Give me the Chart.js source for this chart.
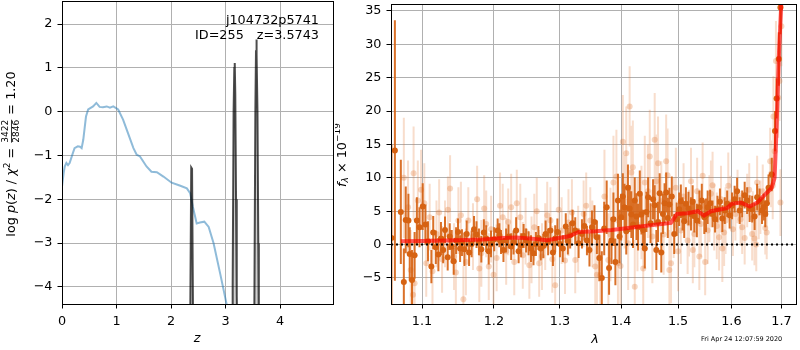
<!DOCTYPE html>
<html>
<head>
<meta charset="utf-8">
<script src="https://cdn.jsdelivr.net/npm/chart.js@4.4.1/dist/chart.umd.min.js"></script>
<style>
  body { margin: 0; background: #fff; }
  #wrap { position: relative; width: 800px; height: 350px; }
  canvas { position: absolute; top: 0; }
  #pz { left: 0; }
  #spec { left: 335px; }
</style>
</head>
<body>
<div id="wrap">
  <canvas id="pz" width="335" height="350"></canvas>
  <canvas id="spec" width="465" height="350"></canvas>
</div>
<script>
// ---- left panel: log p(z)
const zTicks = [0, 1, 2, 3, 4];
const lnpTicks = [-4, -3, -2, -1, 0, 1, 2];
const blueZ = [0, 0.03, 0.05, 0.08, 0.11, 0.14, 0.19, 0.23, 0.29, 0.33, 0.36, 0.39, 0.44, 0.48, 0.57, 0.63, 0.69, 0.75, 0.82, 0.88, 0.94, 1.03, 1.12, 1.21, 1.31, 1.37, 1.43, 1.55, 1.64, 1.74, 1.86, 2.01, 2.17, 2.29, 2.35, 2.40, 2.47, 2.53, 2.61, 2.69, 2.78, 2.90, 3.02, 3.06];
const blueLnp = [-1.71, -1.4, -1.25, -1.17, -1.22, -1.17, -0.98, -0.83, -0.79, -0.8, -0.83, -0.64, -0.11, 0.05, 0.12, 0.2, 0.11, 0.1, 0.12, 0.09, 0.12, 0.05, -0.18, -0.49, -0.83, -0.98, -1.02, -1.25, -1.37, -1.38, -1.48, -1.62, -1.69, -1.75, -1.86, -2.17, -2.55, -2.53, -2.51, -2.63, -3.0, -3.69, -4.4, -4.8];
const spikeZ = [2.345, 2.370, 2.385, 2.410, 3.125, 3.130, 3.147, 3.160, 3.168, 3.178, 3.192, 3.205, 3.215, 3.520, 3.528, 3.546, 3.558, 3.565, 3.572, 3.585, 3.600, 3.610];
const spikeLnp = [-6, -1.27, -1.30, -6, -5, -4, 0, 1.0, 1.11, 0.4, -2.0, -4.2, -5, -5, -4.4, 0, 1.4, 1.65, 1.3, 0, -3, -5];

// ---- right panel: spectrum
const lamTicks = [1.1, 1.2, 1.3, 1.4, 1.5, 1.6, 1.7];
const fluxTicks = [-5, 0, 5, 10, 15, 20, 25, 30, 35];
const darkWave = [1.0600, 1.0644, 1.0721, 1.0760, 1.0785, 1.0820, 1.0837, 1.0867, 1.0901, 1.0931,
  1.0966, 1.1009, 1.1046, 1.1125, 1.1185, 1.1255, 1.1310, 1.1347, 1.1403, 1.1463,
  1.1519, 1.1579, 1.1611, 1.1681, 1.1750, 1.1819, 1.1889, 1.1958, 1.2055, 1.2104,
  1.2179, 1.2254, 1.2328, 1.2403, 1.2478, 1.2552, 1.2627, 1.2701, 1.2776, 1.2851,
  1.2925, 1.3000, 1.3092, 1.3162, 1.3243, 1.3351, 1.3432, 1.3514, 1.3595, 1.3676,
  1.3757, 1.3838, 1.3903, 1.3946, 1.4000, 1.4058, 1.4116, 1.4174, 1.4233, 1.4291,
  1.4349, 1.4407, 1.4465, 1.4552, 1.4610, 1.4669, 1.4727, 1.4785, 1.4843, 1.4930,
  1.5019, 1.5081, 1.5143, 1.5236, 1.5298, 1.5391, 1.5484, 1.5547, 1.5640, 1.5733,
  1.5826, 1.5919, 1.6013, 1.6112, 1.6211, 1.6309, 1.6408, 1.6507, 1.6605, 1.6671,
  1.6737, 1.6803, 1.6868, 1.6901, 1.6947, 1.6980,
  1.1080, 1.1150, 1.1220, 1.1285, 1.1375, 1.1430, 1.1490, 1.1545, 1.1645, 1.1715,
  1.1785, 1.1855, 1.1925, 1.2005, 1.2080, 1.2140, 1.2215, 1.2290, 1.2365, 1.2440,
  1.2515, 1.2590, 1.2665, 1.2740, 1.2815, 1.2890, 1.2960, 1.3045, 1.3125, 1.3200,
  1.3297, 1.3390, 1.3473, 1.3555, 1.3635, 1.3716, 1.3797, 1.3870, 1.3973, 1.4029,
  1.4087, 1.4145, 1.4203, 1.4262, 1.4320, 1.4378, 1.4436, 1.4508, 1.4581, 1.4640,
  1.4698, 1.4756, 1.4814, 1.4886, 1.4975, 1.5050, 1.5112, 1.5190, 1.5267, 1.5345,
  1.5437, 1.5516, 1.5593, 1.5687, 1.5780, 1.5873, 1.5966, 1.6063, 1.6162, 1.6260,
  1.6358, 1.6457, 1.6556, 1.6638, 1.6704];
const darkFlux = [1.0, 14.1, 4.9, -5.6, 3.7, 3.6, -1.4, -5.3, -1.6, 3.6,
  2.6, 5.7, 3.0, -3.3, -0.4, 0.9, 2.2, -1.9, -0.3, 0.6,
  -0.6, -0.7, 1.6, 0.1, 1.5, -0.7, 0.9, 0.1, 2.1, 0.4,
  0.6, -0.3, 2.1, -0.1, 0.6, -0.6, 0.1, -0.6, 1.6, 2.1,
  0.9, 0.1, 2.7, 1.4, 2.1, 1.6, 0.6, 2.6, 1.1, -5.0,
  5.6, 0.6, -2.6, 6.6, 4.1, 5.6, 8.5, 4.5, 6.6, 2.6,
  4.5, -0.6, 7.1, 6.8, -0.8, 7.7, 4.6, 7.8, 6.0, 1.6,
  5.3, 4.6, 6.1, 4.6, 4.3, 5.6, 4.1, 5.6, 4.6, 5.3,
  3.9, 6.1, 5.8, 8.0, 6.1, 6.6, 5.3, 7.1, 5.1, 4.6,
  8.5, 10.5, 17.0, 21.9, 27.8, 35.5,
  0.5, 1.8, -1.5, -0.8, 1.2, -2.5, 1.9, 0.3, -1.2, 2.3,
  0.4, 1.8, -1.0, 0.8, 1.4, -0.8, 1.2, 0.3, -1.0, 1.3,
  0.2, -1.3, 1.0, -0.2, 0.4, -1.2, 1.9, -0.6, 0.5, 3.2,
  0.2, 2.8, -0.8, 3.4, -2.0, 2.4, -3.5, 3.8, 1.2, 7.2,
  2.0, 5.4, 3.0, 4.2, 7.6, 2.2, 4.9, 3.2, 5.9, 3.4,
  -1.2, 6.2, 4.0, 7.2, 3.8, 6.5, 3.5, 5.4, 6.4, 3.6,
  6.6, 4.4, 6.2, 3.8, 6.4, 5.1, 4.4, 6.8, 5.1, 7.4,
  5.4, 4.2, 6.4, 5.6, 6.2];
const darkErr = [14, 19.5, 7.8, 5, 5, 4, 4, 4.5, 3.5, 3.5,
  3, 3.5, 3, 2.5, 2.5, 2.5, 2, 2, 2.5, 2,
  2, 2.5, 2, 2, 2, 2, 2, 2, 1.8, 1.8,
  1.8, 2, 2, 1.8, 1.8, 2, 1.8, 1.8, 2, 2,
  2, 2, 2, 2, 2, 2.2, 2.2, 2.5, 2.5, 4,
  4, 3.5, 3.5, 4, 3.5, 3.5, 3.5, 3.5, 3.5, 3.5,
  3, 3, 3, 3, 3, 3, 3, 3, 2.5, 3,
  2.5, 2.5, 2.5, 2.5, 2.5, 2.5, 2.5, 2.5, 2, 2,
  2, 2, 2, 2, 2, 2, 2, 2, 2, 2,
  2, 2.5, 3, 3, 4, 4,
  3, 2.5, 2.5, 2, 2, 2, 2, 2, 2, 2,
  2, 2, 2, 1.8, 1.8, 1.8, 1.8, 1.8, 1.8, 1.8,
  1.8, 1.8, 1.8, 1.8, 2, 2, 2, 2, 2, 2,
  2.2, 2.2, 2.5, 2.5, 3.5, 4, 4, 4, 4, 3.5,
  3.5, 3.5, 3.5, 3.5, 3.5, 3, 3, 3, 3, 3,
  3, 3, 3, 3, 2.5, 2.5, 2.5, 2.5, 2.5, 2.5,
  2.5, 2.5, 2, 2, 2, 2, 2, 2, 2, 2,
  2, 2, 2, 2, 2];
const lightWave = [1.0760, 1.0815, 1.0850, 1.0880, 1.0888, 1.0901, 1.0944, 1.0987, 1.1056, 1.1102,
  1.1194, 1.1310, 1.1380, 1.1435, 1.1495, 1.1565, 1.1634, 1.1759, 1.1819, 1.1889,
  1.1926, 1.1995, 1.2129, 1.2254, 1.2338, 1.2428, 1.2527, 1.2602, 1.2677, 1.2801,
  1.2851, 1.2925, 1.3027, 1.3135, 1.3243, 1.3378, 1.3486, 1.3568, 1.3595, 1.3784,
  1.3870, 1.3946, 1.4029, 1.4087, 1.4145, 1.4174, 1.4233, 1.4349, 1.4407, 1.4494,
  1.4581, 1.4640, 1.4698, 1.4785, 1.4843, 1.4872, 1.4959, 1.5050, 1.5174, 1.5236,
  1.5298, 1.5391, 1.5453, 1.5547, 1.5609, 1.5671, 1.5764, 1.5826, 1.5888, 1.5981,
  1.6079, 1.6211, 1.6309, 1.6408, 1.6454, 1.6507, 1.6572, 1.6671, 1.6770, 1.6822,
  1.6836, 1.6888, 1.6934, 1.6980, 1.7000,
  1.1030, 1.1140, 1.1230, 1.1270, 1.1350, 1.1460, 1.1530, 1.1600, 1.1700, 1.1790,
  1.1860, 1.1960, 1.2040, 1.2090, 1.2180, 1.2210, 1.2300, 1.2390, 1.2470, 1.2560,
  1.2640, 1.2720, 1.2770, 1.2880, 1.2980, 1.3080, 1.3190, 1.3290, 1.3420, 1.3520,
  1.3650, 1.3720, 1.3820, 1.3920, 1.3990, 1.4060, 1.4120, 1.4200, 1.4280, 1.4380,
  1.4460, 1.4540, 1.4610, 1.4740, 1.4810, 1.4920, 1.5000, 1.5100, 1.5200, 1.5270,
  1.5350, 1.5420, 1.5500, 1.5580, 1.5640, 1.5720, 1.5800, 1.5860, 1.5940, 1.6030,
  1.6120, 1.6180, 1.6260, 1.6350, 1.6420, 1.6490, 1.6540, 1.6620, 1.6700, 1.6790,
  1.6860, 1.6960];
const lightFlux = [10.0, 5.6, -3.8, -7.5, 10.7, -5.8, 6.6, 8.2, -2.8, 4.1,
  1.6, 1.6, 8.4, -1.8, 3.6, -8.2, 3.6, 6.8, -1.3, 3.1,
  -3.3, -4.5, 4.1, 5.6, 6.2, -1.6, -3.1, 2.6, -2.8, 4.4,
  3.6, -6.1, 2.1, 3.3, -2.3, 4.6, 3.6, -3.3, -4.5, -2.3,
  9.3, -2.8, 15.4, 13.7, 20.7, 10.8, -6.3, 4.8, 9.3, 13.2,
  15.7, 12.2, 6.5, 12.5, -3.8, -2.8, 8.5, 2.1, 0.6, 9.5,
  1.6, -1.8, 10.3, 2.1, 7.6, 4.1, 1.1, -0.6, 3.6, 6.3,
  4.6, 2.6, 6.6, 1.6, 0.9, 9.3, 5.6, 2.5, 12.5, 8.8,
  19.2, 27.5, 22.0, 6.3, 32.7,
  6.2, -4.0, 4.8, -2.2, 5.2, -4.2, 4.4, -2.6, 1.2, -3.6,
  5.4, 2.3, -2.0, 5.8, -1.0, 3.4, -2.6, 4.1, 2.0, -0.8,
  5.0, -1.8, 1.2, -2.2, 5.2, -2.4, 4.8, 0.8, 5.8, 1.6,
  -4.6, 7.2, 1.5, 10.2, -3.2, 6.4, 0.2, 11.6, 3.0, -3.6,
  8.0, 1.2, 9.5, 1.5, 10.4, 4.0, -1.0, 7.2, 3.2, -0.8,
  8.0, 3.1, -2.6, 5.4, 8.9, 2.8, 6.8, 1.8, 8.8, 2.3,
  7.2, 3.8, 1.0, 8.2, 4.0, 0.0, 4.8, 8.0, 1.8, 10.6,
  14.0, 24.5];
const lightErr = [9, 7, 6, 6, 7, 6, 6, 6, 5, 5,
  5, 5, 5, 5, 5, 5, 5, 5, 5, 5,
  5, 5, 5, 5, 5, 5, 5, 5, 5, 5,
  5, 5, 5, 5, 5, 5, 5, 6, 6, 7,
  7, 7, 7, 7, 6, 7, 7, 7, 7, 7,
  7, 7, 6, 7, 6, 6, 6, 5, 5, 5,
  5, 5, 5, 5, 5, 5, 5, 5, 5, 4,
  4, 4, 4, 4, 4, 4, 4, 4, 5, 5,
  6, 6, 6, 5, 6,
  6, 5, 5, 5, 5, 5, 5, 5, 5, 5,
  5, 5, 5, 5, 5, 5, 5, 5, 5, 5,
  5, 5, 5, 5, 5, 5, 5, 5, 5, 5,
  6, 7, 7, 7, 7, 7, 7, 7, 7, 7,
  7, 7, 7, 6, 7, 6, 6, 5, 5, 5,
  5, 5, 5, 5, 5, 5, 5, 5, 5, 4,
  4, 4, 4, 4, 4, 4, 4, 4, 4, 5,
  5, 6];
const modelWave = [1.072, 1.100, 1.147, 1.184, 1.213, 1.233, 1.253, 1.280, 1.303, 1.314, 1.330, 1.357, 1.384, 1.412, 1.447, 1.470, 1.487, 1.498, 1.517, 1.536, 1.548, 1.561, 1.580, 1.592, 1.601, 1.618, 1.636, 1.651, 1.664, 1.680, 1.686, 1.690, 1.695, 1.700, 1.702];
const modelFlux = [0.5, 0.55, 0.65, 0.75, 1.0, 1.05, 0.9, 0.65, 1.05, 1.25, 1.9, 2.0, 2.2, 2.5, 2.85, 3.1, 3.25, 4.6, 4.7, 5.0, 4.35, 5.0, 5.3, 5.5, 6.1, 6.3, 5.7, 6.3, 7.3, 8.5, 10.0, 17.4, 28.8, 36.5, 45];
const lamMin = 1.0594, lamMax = 1.7303;

const FAM = "'DejaVu Sans'";
const N = '12.8px ' + FAM, I = 'italic 12.8px ' + FAM, S = '9px ' + FAM, SI = 'italic 9px ' + FAM;
Chart.defaults.font.family = FAM;
Chart.defaults.font.size = 12.8;
Chart.defaults.color = '#000';

const pts = (xs, ys) => xs.map((x, i) => ({x: x, y: ys[i]}));
function errSegs(xs, ys, es) {
  const out = [];
  xs.forEach((x, i) => {
    out.push({x: x, y: ys[i] - es[i]}, {x: x, y: ys[i] + es[i]}, {x: x, y: null});
  });
  return out;
}
const minus = v => (v < 0 ? '\u2212' + Math.abs(v) : String(v));

function fixAxis(size, horizontal) {
  return s => {
    if (horizontal) s.height = size; else s.width = size;
    s.paddingLeft = s.paddingRight = s.paddingTop = s.paddingBottom = 0;
  };
}
const grid = {color: '#b0b0b0', lineWidth: 1, tickColor: '#000', tickLength: 4.5};

const frame = {
  id: 'frame',
  afterDraw(chart) {
    const {ctx, chartArea: a} = chart;
    ctx.save();
    ctx.strokeStyle = '#000';
    ctx.lineWidth = 1;
    ctx.strokeRect(a.left + 0.5, a.top + 0.5, a.right - a.left, a.bottom - a.top);
    ctx.restore();
  }
};

// draw a rotated label made of several font runs
function rotatedLabel(ctx, parts, cx, cy) {
  ctx.save();
  ctx.translate(cx, cy);
  ctx.rotate(-Math.PI / 2);
  ctx.textBaseline = 'middle';
  ctx.fillStyle = '#000';
  ctx.strokeStyle = '#000';
  let total = 0;
  parts.forEach(p => {
    ctx.font = p.font;
    p.w = p.frac ? Math.max(ctx.measureText(p.num).width, ctx.measureText(p.den).width) + 2 : ctx.measureText(p.t).width;
    total += p.w;
  });
  let x = -total / 2;
  parts.forEach(p => {
    ctx.font = p.font;
    if (p.frac) {
      ctx.textAlign = 'center';
      ctx.fillText(p.num, x + p.w / 2, -6);
      ctx.fillText(p.den, x + p.w / 2, 5);
      ctx.lineWidth = 0.8;
      ctx.beginPath();
      ctx.moveTo(x + 1, -0.5);
      ctx.lineTo(x + p.w - 1, -0.5);
      ctx.stroke();
    } else {
      ctx.textAlign = 'left';
      ctx.fillText(p.t, x, p.dy || 0);
    }
    x += p.w;
  });
  ctx.restore();
}

const pzText = {
  id: 'pzText',
  afterDraw(chart) {
    const ctx = chart.ctx;
    ctx.save();
    ctx.fillStyle = '#000';
    ctx.font = N;
    ctx.textBaseline = 'alphabetic';
    ctx.textAlign = 'right';
    ctx.fillText('j104732p5741', 319, 24);
    ctx.fillText('z=3.5743', 319, 39);
    ctx.textAlign = 'left';
    ctx.fillText('ID=255', 195, 39);
    ctx.font = I;
    ctx.textAlign = 'center';
    ctx.textBaseline = 'middle';
    ctx.fillText('z', 197, 339);
    ctx.restore();
    rotatedLabel(ctx, [
      {t: 'log ', font: N}, {t: 'p', font: I}, {t: '(', font: N}, {t: 'z', font: I},
      {t: ') / ', font: N}, {t: '\u03c7', font: I}, {t: '2', font: S, dy: -4},
      {t: ' = ', font: N}, {frac: true, num: '3422', den: '2846', font: S},
      {t: ' = 1.20', font: N}
    ], 12, 154);
  }
};

const specText = {
  id: 'specText',
  afterDraw(chart) {
    const ctx = chart.ctx;
    ctx.save();
    ctx.fillStyle = '#000';
    ctx.font = I;
    ctx.textAlign = 'center';
    ctx.textBaseline = 'middle';
    ctx.fillText('\u03bb', 260, 340);
    ctx.font = '6.5px ' + FAM;
    ctx.textAlign = 'left';
    ctx.fillText('Fri Apr 24 12:07:59 2020', 366, 339);
    ctx.restore();
    rotatedLabel(ctx, [
      {t: 'f', font: I}, {t: '\u03bb', font: SI, dy: 3},
      {t: ' \u00d7 10', font: N}, {t: '\u221219', font: S, dy: -5}
    ], 8, 155);
  }
};

new Chart(document.getElementById('pz'), {
  type: 'scatter',
  data: {
    datasets: [
      {
        data: pts(spikeZ, spikeLnp), showLine: true, fill: 'start',
        borderColor: 'rgba(0,0,0,0.7)', backgroundColor: 'rgba(0,0,0,0.18)',
        borderWidth: 2, pointRadius: 0, order: 0
      },
      {
        data: pts(blueZ, blueLnp), showLine: true, fill: false,
        borderColor: 'rgba(31,119,180,0.5)', borderWidth: 2, pointRadius: 0, order: 1
      }
    ]
  },
  options: {
    responsive: false, animation: false, devicePixelRatio: 1,
    layout: {padding: {top: 1, right: 2, left: 0, bottom: 0}},
    plugins: {legend: {display: false}, tooltip: {enabled: false}},
    scales: {
      x: {
        type: 'linear', min: 0, max: 4.97,
        afterBuildTicks: s => { s.ticks = zTicks.map(v => ({value: v})); },
        afterFit: fixAxis(46, true),
        grid: grid, border: {display: false},
        ticks: {padding: 5, callback: v => minus(v)}
      },
      y: {
        type: 'linear', min: -4.388, max: 2.526,
        afterBuildTicks: s => { s.ticks = lnpTicks.map(v => ({value: v})); },
        afterFit: fixAxis(62, false),
        grid: grid, border: {display: false},
        ticks: {padding: 5, callback: v => minus(v)}
      }
    }
  },
  plugins: [frame, pzText]
});

new Chart(document.getElementById('spec'), {
  type: 'scatter',
  data: {
    datasets: [
      {
        data: [{x: lamMin, y: 0}, {x: lamMax, y: 0}], showLine: true,
        borderColor: '#000', borderWidth: 2, borderDash: [2, 3], pointRadius: 0, order: 0
      },
      {
        data: pts(modelWave, modelFlux), showLine: true,
        borderColor: 'rgba(255,0,0,0.65)', borderWidth: 4, pointRadius: 0, order: 1
      },
      {
        data: pts(darkWave, darkFlux), pointRadius: 3, pointBorderWidth: 0,
        backgroundColor: 'rgb(214,98,18)', order: 2
      },
      {
        data: errSegs(darkWave, darkFlux, darkErr), showLine: true, spanGaps: false,
        borderColor: 'rgba(214,98,18,0.9)', borderWidth: 2, pointRadius: 0, order: 3
      },
      {
        data: pts(lightWave, lightFlux), pointRadius: 3, pointBorderWidth: 0,
        backgroundColor: 'rgba(226,120,50,0.3)', order: 4
      },
      {
        data: errSegs(lightWave, lightFlux, lightErr), showLine: true, spanGaps: false,
        borderColor: 'rgba(226,120,50,0.25)', borderWidth: 2, pointRadius: 0, order: 5
      }
    ]
  },
  options: {
    responsive: false, animation: false, devicePixelRatio: 1,
    layout: {padding: {top: 1, right: 1, left: 0, bottom: 0}},
    plugins: {legend: {display: false}, tooltip: {enabled: false}},
    scales: {
      x: {
        type: 'logarithmic', min: lamMin, max: lamMax,
        afterBuildTicks: s => { s.ticks = lamTicks.map(v => ({value: v})); },
        afterFit: fixAxis(46, true),
        grid: grid, border: {display: false},
        ticks: {padding: 5, callback: v => v.toFixed(1)}
      },
      y: {
        type: 'linear', min: -8.9, max: 36.04,
        afterBuildTicks: s => { s.ticks = fluxTicks.map(v => ({value: v})); },
        afterFit: fixAxis(56, false),
        grid: grid, border: {display: false},
        ticks: {padding: 5, callback: v => minus(v)}
      }
    }
  },
  plugins: [frame, specText]
});
</script>
</body>
</html>
